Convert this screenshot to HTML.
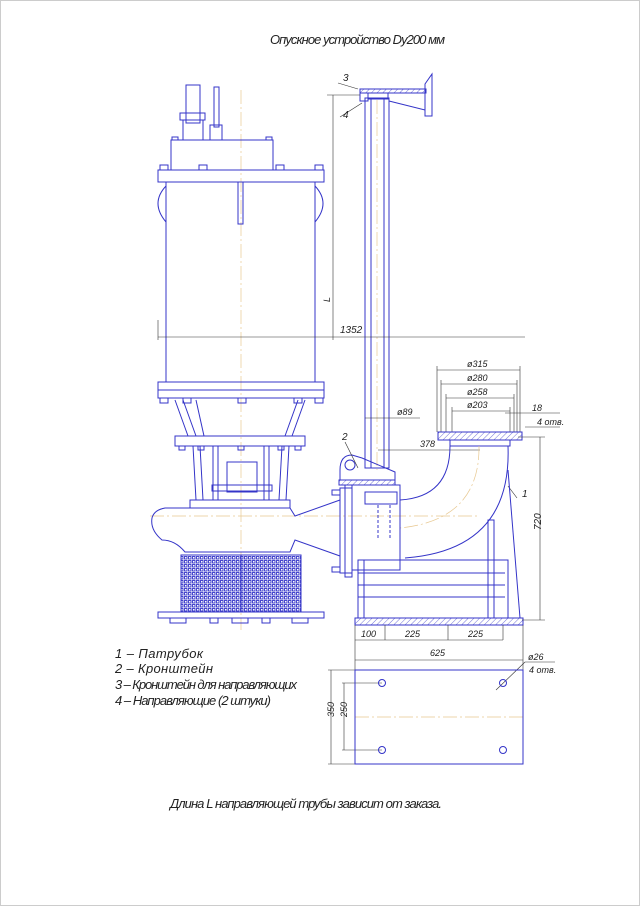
<!DOCTYPE html>
<html><head><meta charset="utf-8"><style>
html,body{margin:0;padding:0;background:#fff;}
svg{display:block;}
.t{font-family:"Liberation Sans","DejaVu Sans",sans-serif;font-style:italic;fill:#222;}
.b{stroke:#3434c8;fill:none;stroke-width:1;}
.bf{stroke:#3434c8;fill:#fff;stroke-width:1;}
.d{stroke:#333;fill:none;stroke-width:0.6;}
.c{stroke:#e8c890;fill:none;stroke-width:0.7;stroke-dasharray:14 3 2 3;}
.h{stroke:#3434c8;fill:url(#hatch);stroke-width:1;}
</style></head><body>
<svg width="640" height="906" viewBox="0 0 640 906" xmlns="http://www.w3.org/2000/svg">
<defs>
<pattern id="hatch" width="4" height="4" patternUnits="userSpaceOnUse" patternTransform="rotate(45)"><line x1="0" y1="0" x2="0" y2="4" stroke="#3434c8" stroke-width="0.7"/></pattern>
<pattern id="grid" width="4" height="4" patternUnits="userSpaceOnUse"><rect width="4" height="4" fill="#fff"/><rect x="0.5" y="0.5" width="2.5" height="2.5" fill="none" stroke="#3434c8" stroke-width="0.9"/></pattern>
</defs>
<rect x="0.5" y="0.5" width="639" height="905" fill="none" stroke="#ccc" stroke-width="1"/>
<text class="t" x="270" y="44" font-size="13" textLength="175">Опускное устройство Dy200 мм</text>

<!-- centerlines -->
<line class="c" x1="241" y1="90" x2="241" y2="630"/>
<line class="c" x1="377" y1="100" x2="377" y2="470"/>
<line class="c" x1="150" y1="516" x2="480" y2="516"/>
<line class="c" x1="355" y1="717" x2="525" y2="717"/>

<!-- pump top -->
<rect class="b" x="186" y="85" width="14" height="38"/>
<rect class="b" x="214" y="87" width="5" height="40"/>
<rect class="b" x="180" y="113" width="25" height="7"/>
<rect class="b" x="183" y="120" width="20" height="20"/>
<rect class="b" x="210" y="125" width="12" height="15"/>
<rect class="b" x="171" y="140" width="102" height="30"/>
<rect class="b" x="158" y="170" width="166" height="12"/>
<rect class="b" x="166" y="182" width="149" height="200"/>
<rect class="b" x="238" y="182" width="5" height="42"/>
<path class="b" d="M166 186 Q150 203 166 222 M315 186 Q331 203 315 222"/>
<g class="b"><rect x="160" y="165" width="8" height="5"/><rect x="199" y="165" width="8" height="5"/><rect x="276" y="165" width="8" height="5"/><rect x="315" y="165" width="8" height="5"/><rect x="172" y="137" width="6" height="3"/><rect x="266" y="137" width="6" height="3"/></g>
<rect class="b" x="158" y="382" width="166" height="16"/>
<line class="b" x1="158" y1="390" x2="324" y2="390"/>
<g class="b"><rect x="160" y="398" width="8" height="5"/><rect x="183" y="398" width="8" height="5"/><rect x="238" y="398" width="8" height="5"/><rect x="294" y="398" width="8" height="5"/><rect x="315" y="398" width="8" height="5"/></g>
<!-- legs -->
<path class="b" d="M175 400 L188 436 M183 400 L196 436 M196 400 L204 436 M305 400 L292 436 M298 400 L285 436"/>
<rect class="b" x="175" y="436" width="130" height="10"/>
<g class="b"><rect x="179" y="446" width="6" height="4"/><rect x="198" y="446" width="6" height="4"/><rect x="238" y="446" width="6" height="4"/><rect x="278" y="446" width="6" height="4"/><rect x="295" y="446" width="6" height="4"/></g>
<path class="b" d="M193 446 L196 500 M200 446 L203 500 M213 446 L213 500 M218 446 L218 500 M264 446 L264 500 M269 446 L269 500 M282 446 L279 500 M289 446 L286 500"/>
<rect class="b" x="227" y="462" width="30" height="30"/>
<rect class="b" x="212" y="485" width="60" height="6"/>
<rect class="b" x="190" y="500" width="100" height="8"/>
<!-- volute -->
<path class="b" d="M190 508 L290 508 L295 516 L340 500 L340 556 L295 540 L290 552 L185 552 Q175 540 162 540 Q150 530 152 518 Q154 510 165 508 Z"/>
<rect x="181" y="555" width="120" height="57" fill="url(#grid)" stroke="#3434c8"/>
<line class="b" x1="241" y1="555" x2="241" y2="612"/>
<rect class="b" x="158" y="612" width="166" height="6"/>
<g class="b"><rect x="170" y="618" width="16" height="5"/><rect x="210" y="618" width="8" height="5"/><rect x="232" y="618" width="16" height="5"/><rect x="262" y="618" width="8" height="5"/><rect x="292" y="618" width="16" height="5"/></g>

<!-- guide pipe and bracket -->
<rect class="b" x="365" y="98" width="24" height="370"/>
<line class="b" x1="371" y1="98" x2="371" y2="468"/>
<line class="b" x1="384" y1="98" x2="384" y2="468"/>
<rect class="h" x="360" y="89" width="66" height="4"/>
<rect class="b" x="360" y="93" width="8" height="8"/>
<rect class="b" x="368" y="93" width="20" height="6"/>
<path class="b" d="M388 93 L425 93 L425 110 L389 101"/>
<path class="b" d="M425 84 L432 74 L432 116 L425 116 Z"/>
<line class="d" x1="338" y1="83" x2="358" y2="89"/><text class="t" x="343" y="81" font-size="10">3</text>
<line class="d" x1="340" y1="117" x2="362" y2="103"/><text class="t" x="343" y="118" font-size="10">4</text>

<!-- L dim -->
<line class="d" x1="333" y1="95" x2="333" y2="340"/>
<line class="d" x1="327" y1="95" x2="360" y2="95"/>
<text class="t" x="324" y="300" font-size="9" transform="rotate(-90 328 298)">L</text>
<line class="d" x1="158" y1="337" x2="525" y2="337"/>
<line class="d" x1="158" y1="320" x2="158" y2="340"/>
<text class="t" x="340" y="333" font-size="10">1352</text>

<!-- flange dims -->
<g class="d">
<line x1="437" y1="370" x2="520" y2="370"/><line x1="441" y1="384" x2="517" y2="384"/><line x1="446" y1="398" x2="514" y2="398"/><line x1="452" y1="411" x2="510" y2="411"/>
<line x1="437" y1="366" x2="437" y2="432"/><line x1="520" y1="366" x2="520" y2="432"/>
<line x1="441" y1="380" x2="441" y2="432"/><line x1="517" y1="380" x2="517" y2="432"/>
<line x1="446" y1="394" x2="446" y2="432"/><line x1="514" y1="394" x2="514" y2="432"/>
<line x1="452" y1="407" x2="452" y2="432"/><line x1="510" y1="407" x2="510" y2="432"/>
<line x1="505" y1="413" x2="560" y2="413"/><line x1="525" y1="427" x2="560" y2="427"/>
<line x1="365" y1="418" x2="420" y2="418"/>
<line x1="378" y1="450" x2="480" y2="450"/>
</g>
<text class="t" x="467" y="367" font-size="9">ø315</text>
<text class="t" x="467" y="381" font-size="9">ø280</text>
<text class="t" x="467" y="395" font-size="9">ø258</text>
<text class="t" x="467" y="408" font-size="9">ø203</text>
<text class="t" x="532" y="411" font-size="9">18</text>
<text class="t" x="537" y="425" font-size="9">4 отв.</text>
<text class="t" x="397" y="415" font-size="9">ø89</text>
<text class="t" x="420" y="447" font-size="9">378</text>

<!-- elbow -->
<rect class="h" x="438" y="432" width="84" height="8"/>
<rect class="bf" x="450" y="440" width="60" height="6"/>
<path class="b" d="M450 446 Q450 497 400 500 M508 446 Q512 550 405 558"/>
<path class="c" d="M479 446 Q480 520 400 528"/>
<line class="d" x1="508" y1="486" x2="517" y2="498"/><text class="t" x="522" y="497" font-size="10">1</text>
<!-- bracket 2 -->
<path class="b" d="M340 470 Q340 455 352 455 L362 458 L395 472 L395 480 L340 480 Z"/>
<circle class="b" cx="350" cy="465" r="5"/>
<rect class="h" x="339" y="480" width="56" height="5"/>
<line class="d" x1="345" y1="442" x2="358" y2="468"/><text class="t" x="342" y="440" font-size="10">2</text>
<rect class="b" x="352" y="485" width="48" height="85"/>
<rect class="b" x="340" y="488" width="12" height="85"/>
<rect class="b" x="345" y="485" width="7" height="92"/>
<g class="b"><rect x="332" y="490" width="8" height="5"/><rect x="332" y="567" width="8" height="5"/></g>
<rect class="b" x="365" y="492" width="32" height="12"/>
<path class="b" d="M378 505 L378 540 M390 505 L390 540" stroke-dasharray="3 2"/>
<!-- stand -->
<rect class="b" x="358" y="560" width="150" height="58"/>
<line class="b" x1="358" y1="573" x2="505" y2="573"/><line class="b" x1="358" y1="585" x2="505" y2="585"/><line class="b" x1="358" y1="597" x2="505" y2="597"/>
<rect class="b" x="358" y="560" width="6" height="58"/>
<rect class="b" x="488" y="520" width="6" height="98"/>
<line class="b" x1="508" y1="470" x2="520" y2="618"/>
<rect class="h" x="355" y="618" width="168" height="7"/>
<!-- dims -->
<g class="d">
<line x1="518" y1="437" x2="545" y2="437"/><line x1="522" y1="620" x2="545" y2="620"/><line x1="540" y1="437" x2="540" y2="620"/>
<line x1="355" y1="625" x2="355" y2="670"/><line x1="523" y1="625" x2="523" y2="670"/>
<line x1="385" y1="625" x2="385" y2="640"/><line x1="448" y1="625" x2="448" y2="640"/><line x1="503" y1="625" x2="503" y2="640"/>
<line x1="355" y1="640" x2="503" y2="640"/><line x1="355" y1="660" x2="523" y2="660"/>
<line x1="525" y1="662" x2="555" y2="662"/><line x1="525" y1="662" x2="496" y2="690"/>
<line x1="328" y1="670" x2="355" y2="670"/><line x1="328" y1="764" x2="355" y2="764"/><line x1="331" y1="670" x2="331" y2="764"/>
<line x1="342" y1="683" x2="382" y2="683"/><line x1="342" y1="750" x2="382" y2="750"/><line x1="344" y1="683" x2="344" y2="750"/>
</g>
<text class="t" x="536" y="535" font-size="10" transform="rotate(-90 536 530)">720</text>
<text class="t" x="361" y="637" font-size="9">100</text>
<text class="t" x="405" y="637" font-size="9">225</text>
<text class="t" x="468" y="637" font-size="9">225</text>
<text class="t" x="430" y="656" font-size="9">625</text>
<text class="t" x="528" y="660" font-size="9">ø26</text>
<text class="t" x="529" y="673" font-size="9">4 отв.</text>
<text class="t" x="329" y="722" font-size="9" transform="rotate(-90 329 717)">350</text>
<text class="t" x="342" y="722" font-size="9" transform="rotate(-90 342 717)">250</text>
<rect class="b" x="355" y="670" width="168" height="94"/>
<g class="b"><circle cx="382" cy="683" r="3.5"/><circle cx="503" cy="683" r="3.5"/><circle cx="382" cy="750" r="3.5"/><circle cx="503" cy="750" r="3.5"/></g>

<!-- legend -->
<text class="t" x="115" y="658" font-size="13" textLength="88">1 – Патрубок</text>
<text class="t" x="115" y="673" font-size="13" textLength="98">2 – Кронштейн</text>
<text class="t" x="115" y="689" font-size="13" textLength="182">3 – Кронштейн для направляющих</text>
<text class="t" x="115" y="705" font-size="13" textLength="156">4 – Направляющие (2 штуки)</text>
<text class="t" x="170" y="808" font-size="13" textLength="272">Длина L направляющей трубы зависит от заказа.</text>
</svg>
</body></html>
